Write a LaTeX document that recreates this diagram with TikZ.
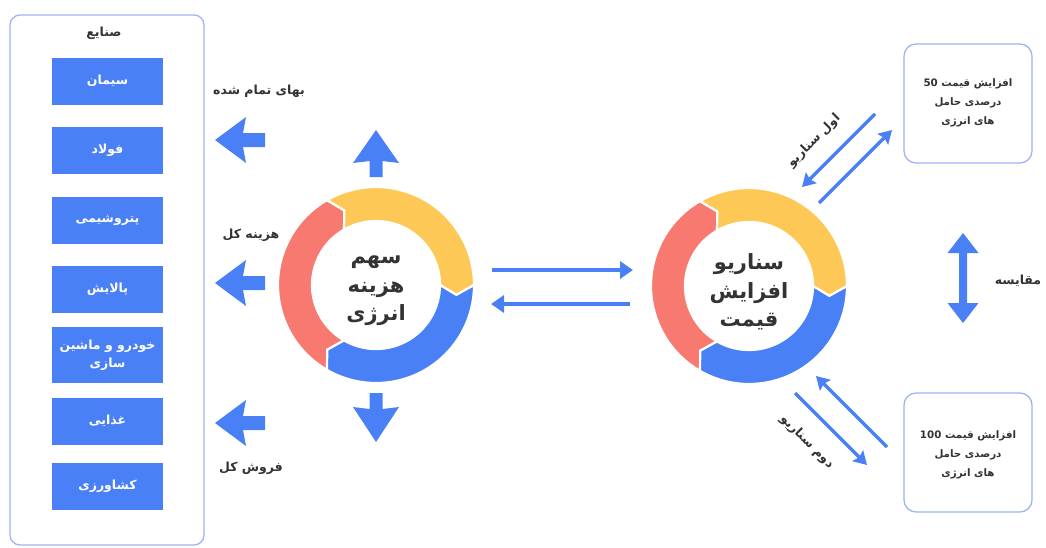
\documentclass[tikz,border=0pt]{standalone}
\usepackage{fontspec}
\usetikzlibrary{arrows.meta}
\TeXXeTstate=1
\newfontfamily\fa[Script=Arabic]{DejaVu Sans}
\definecolor{myblue}{HTML}{4A80F5}
\definecolor{myred}{HTML}{F7796F}
\definecolor{myyellow}{HTML}{FEC856}
\definecolor{txt}{HTML}{333333}
\definecolor{frame}{HTML}{9DB5F2}
\newcommand{\ringseg}[3]{%
  \path[fill=#3, draw=white, line width=2.2pt, line join=miter]
    (#1:98) arc[start angle=#1, end angle=#2, radius=98]
    -- ({#2-7}:81) -- (#2:64)
    arc[start angle=#2, end angle=#1, radius=64]
    -- ({#1-7}:81) -- cycle;}
\newcommand{\leftblock}[1]{%
  \fill[myblue] (215,#1) -- (246,{#1-23}) -- (243,{#1-7}) -- (265,{#1-7})
    -- (265,{#1+7}) -- (243,{#1+7}) -- (246,{#1+23}) -- cycle;}
\newcommand{\rl}[1]{\beginR #1\endR}
\newcommand{\rlkeep}[1]{\beginR\beginL #1\endL\endR}
\begin{document}
\begin{tikzpicture}[x=1pt,y=-1pt,
  lbl/.style={text=txt, font=\fa\bfseries\fontsize{12.5}{14}\selectfont, inner sep=0pt},
  ind/.style={fill=myblue, minimum width=111pt, minimum height=47pt, inner sep=0pt,
    text=white, font=\fa\bfseries\fontsize{12.5}{18}\selectfont, align=center},
  frm/.style={draw=frame, line width=1.3pt, fill=white},
  ringtxt/.style={text=txt, font=\fa\bfseries\fontsize{21}{28.5}\selectfont, align=center, inner sep=0pt},
  boxtxt/.style={text=txt, font=\fa\bfseries\fontsize{10.3}{19}\selectfont, align=center},
  conn/.style={draw=myblue, line width=4pt, -{Triangle[length=13pt,width=17pt]}},
  diag/.style={draw=myblue, line width=3.5pt, -{Stealth[length=13pt,width=15pt,inset=2pt]}},
]
\useasboundingbox[fill=white] (0,0) rectangle (1046,547);

% left panel
\node[frm, rounded corners=10pt, minimum width=194pt, minimum height=530pt] (panel) at (107,280) {};
\node[lbl] (title) at (104,33) {صنایع};
\node[ind] (b1) at (107.5,81) {سیمان};
\node[ind] (b2) at (107.5,150.5) {فولاد};
\node[ind] (b3) at (107.5,220.5) {پتروشیمی};
\node[ind] (b4) at (107.5,289.5) {پالایش};
\node[ind, minimum height=56pt] (b5) at (107.5,355) {\rl{خودرو و ماشین}\\سازی};
\node[ind] (b6) at (107.5,421) {غذایی};
\node[ind] (b7) at (107.5,486.5) {کشاورزی};

% left block arrows and labels
\leftblock{140}
\leftblock{283}
\leftblock{423}
\node[lbl] (l1) at (259,91) {\rl{بهای تمام شده}};
\node[lbl] (l2) at (251,235) {\rl{هزینه کل}};
\node[lbl] (l3) at (251,468) {\rl{فروش کل}};

% up / down arrows
\fill[myblue] (376,130) -- (353,163) -- (369.5,161) -- (369.5,177) -- (382.5,177) -- (382.5,161) -- (399,163) -- cycle;
\fill[myblue] (376,442) -- (353,407) -- (369.5,409) -- (369.5,393) -- (382.5,393) -- (382.5,409) -- (399,407) -- cycle;

% left ring
\begin{scope}[shift={(376,285)}, yscale=-1]
  \ringseg{240}{120}{myred}
  \ringseg{120}{0}{myyellow}
  \ringseg{0}{-120}{myblue}
\end{scope}
\node[ringtxt] (t1) at (376,291) {سهم\\هزینه\\انرژی};

% right ring
\begin{scope}[shift={(749,286)}, yscale=-1]
  \ringseg{240}{120}{myred}
  \ringseg{120}{0}{myyellow}
  \ringseg{0}{-120}{myblue}
\end{scope}
\node[ringtxt] (t2) at (749,292) {سناریو\\افزایش\\قیمت};

% horizontal connectors
\coordinate (h1s) at (492,270);
\coordinate (h1e) at (633,270);
\coordinate (h2s) at (630,304);
\coordinate (h2e) at (491,304);
\draw[conn] (h1s) -- (h1e);
\draw[conn] (h2s) -- (h2e);

% right boxes
\node[frm, rounded corners=12pt, minimum width=128pt, minimum height=119pt] (box1) at (968,103.5) {};
\node[boxtxt] (box1t) at (968,103) {\rl{افزایش قیمت \beginL 50\endL}\\\rl{درصدی حامل}\\\rl{های انرژی}};
\node[frm, rounded corners=12pt, minimum width=128pt, minimum height=119pt] (box2) at (968,452.5) {};
\node[boxtxt] (box2t) at (968,455) {\rl{افزایش قیمت \beginL 100\endL}\\\rl{درصدی حامل}\\\rl{های انرژی}};

% diagonal connectors
\coordinate (d1s) at (875,114);
\coordinate (d1e) at (802,187);
\coordinate (d2s) at (819,203);
\coordinate (d2e) at (892,130);
\coordinate (d3s) at (887,447);
\coordinate (d3e) at (816,376);
\coordinate (d4s) at (795,393);
\coordinate (d4e) at (867,465);
\draw[diag] (d1s) -- (d1e);
\draw[diag] (d2s) -- (d2e);
\draw[diag] (d3s) -- (d3e);
\draw[diag] (d4s) -- (d4e);
\node[lbl, rotate=45] (s1) at (814,141) {\rlkeep{سناریو اول}};
\node[lbl, rotate=-45] (s2) at (807,442) {\rlkeep{سناریو دوم}};

% compare arrow
\fill[myblue] (963,233) -- (947.5,253) -- (959,253) -- (959,303) -- (947.5,303) -- (963,323)
  -- (978.5,303) -- (967,303) -- (967,253) -- (978.5,253) -- cycle;
\node[lbl] (cmp) at (1018,281) {مقایسه};
\end{tikzpicture}
\end{document}
